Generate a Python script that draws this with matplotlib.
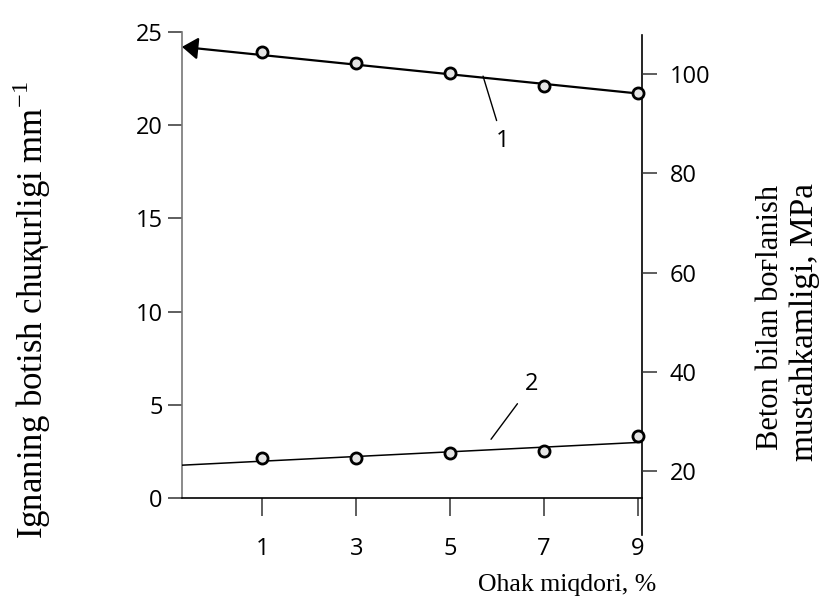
import matplotlib
matplotlib.use("Agg")
import matplotlib.pyplot as plt

plt.rcParams["font.family"] = ["Open Sans", "DejaVu Sans"]
plt.rcParams["mathtext.fontset"] = "custom"
plt.rcParams["mathtext.rm"] = "Liberation Serif"

# lime content, %
ohak = [1, 3, 5, 7, 9]
xticks = [1, 3, 5, 7, 9]

# curve 1: bond strength with concrete, MPa (right axis)
curve1 = [104.5, 102.3, 100.2, 97.6, 96.2]
trend1_x = [-0.71, 8.9]
trend1_y = [105.5, 96.2]

# curve 2: needle penetration depth, mm (left axis)
curve2 = [2.14, 2.14, 2.40, 2.51, 3.31]
trend2_x = [-0.71, 9.08]
trend2_y = [1.76, 2.99]

left_ticks = [0, 5, 10, 15, 20, 25]
right_ticks = [20, 40, 60, 80, 100]

serif = ["Liberation Serif", "DejaVu Serif"]

fig = plt.figure(figsize=(8.25, 6.01), dpi=100)
ax = fig.add_axes([0.2206, 0.1714, 0.5576, 0.7754])
ax2 = ax.twinx()

ax.set_xlim(-0.71, 9.085)
ax.set_ylim(0, 25)
ax2.set_ylim(14.6, 108.5)

for s in ["top", "right"]:
    ax.spines[s].set_visible(False)
for s in ax2.spines.values():
    s.set_visible(False)
ax.spines["left"].set_color("#777777")
ax.spines["left"].set_linewidth(1.2)
ax.spines["bottom"].set_linewidth(1.2)
# right axis line runs below the x axis as in the drawing
ax.plot([1, 1], [-0.08, 0.994], transform=ax.transAxes, color="black",
        lw=1.2, clip_on=False)

ax.set_xticks(xticks)
ax.set_xticklabels([str(t) for t in xticks])
ax.set_yticks(left_ticks)
ax2.set_yticks(right_ticks)
ax.tick_params(axis="x", direction="out", length=13, width=1.1, pad=15,
               labelsize=17, color="#333333")
ax.tick_params(axis="y", direction="out", length=10, width=1.1, pad=4,
               labelsize=17, color="#333333")
ax2.tick_params(axis="y", direction="out", length=11, width=1.1, pad=9,
                labelsize=17, color="#333333")

# curve 1: trend line ending in an arrow head on the left axis
ax2.annotate("", xy=(trend1_x[0], trend1_y[0]),
             xytext=(trend1_x[1], trend1_y[1]),
             arrowprops=dict(arrowstyle="-|>,head_length=0.6,head_width=0.42",
                             color="black", lw=1.6, mutation_scale=16,
                             shrinkA=0, shrinkB=0), zorder=3)
ax2.plot(ohak, curve1, linestyle="none", marker="o", ms=8, mfc="#e4e4e4",
         mec="black", mew=2, zorder=5, clip_on=False)

# curve 2
ax.plot(trend2_x, trend2_y, color="black", lw=1.1, zorder=3)
ax.plot(ohak, curve2, linestyle="none", marker="o", ms=8, mfc="#e4e4e4",
        mec="black", mew=2, zorder=5, clip_on=False)

ax2.annotate("1", xy=(5.70, 99.6), xytext=(6.12, 86.6), fontsize=17,
             ha="center", va="center",
             arrowprops=dict(arrowstyle="-", color="black", lw=1,
                             shrinkA=4, shrinkB=0))
ax.annotate("2", xy=(5.87, 3.15), xytext=(6.74, 6.1), fontsize=17,
            ha="center", va="center",
            arrowprops=dict(arrowstyle="-", color="black", lw=1,
                            shrinkA=6, shrinkB=0))

fig.text(32 / 825, 1 - 310 / 601, "Ignaning botish chuқurligi mm$^{-1}$",
         rotation=90, ha="center", va="center", fontsize=25, family=serif)
fig.text(771 / 825, 1 - 317 / 601, "Beton bilan boғlanish",
         rotation=90, ha="center", va="center", fontsize=22, family=serif)
fig.text(805 / 825, 1 - 322 / 601, "mustahkamligi, MPa",
         rotation=90, ha="center", va="center", fontsize=24, family=serif)
fig.text(567 / 825, 1 - 585 / 601, "Ohak miqdori, %", ha="center",
         va="center", fontsize=18.5, family=serif)

fig.savefig("out.png", dpi=100)
